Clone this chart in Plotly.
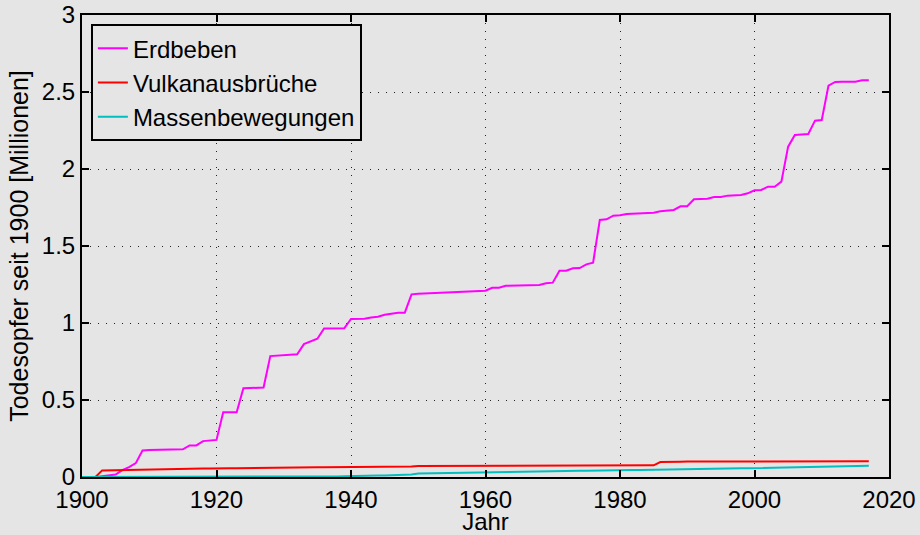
import plotly.graph_objects as go

years = list(range(1900, 2018))

erdbeben = [
    0.0, 0.0, 0.0, 0.005, 0.01, 0.016, 0.045, 0.064, 0.09, 0.172,
    0.175, 0.176, 0.177, 0.178, 0.179, 0.18, 0.205, 0.205, 0.233, 0.239,
    0.241, 0.42, 0.42, 0.421, 0.576, 0.578, 0.58, 0.581, 0.785, 0.787,
    0.79, 0.793, 0.797, 0.863, 0.88, 0.898, 0.965, 0.965, 0.965, 0.966,
    1.026, 1.026, 1.028, 1.035, 1.041, 1.054, 1.062, 1.067, 1.067, 1.186,
    1.19, 1.192, 1.194, 1.196, 1.198, 1.2, 1.201, 1.203, 1.205, 1.21,
    1.21, 1.229, 1.229, 1.242, 1.243, 1.244, 1.245, 1.246, 1.247, 1.258,
    1.262, 1.339, 1.339, 1.355, 1.357, 1.381, 1.392, 1.669, 1.673, 1.697,
    1.699, 1.708, 1.71, 1.712, 1.714, 1.716, 1.725, 1.73, 1.734, 1.758,
    1.758, 1.803, 1.805, 1.807, 1.818, 1.818, 1.827, 1.829, 1.831, 1.842,
    1.862, 1.864, 1.885, 1.885, 1.918, 2.145, 2.221, 2.224, 2.227, 2.314,
    2.318, 2.541, 2.565, 2.566, 2.566, 2.567, 2.576, 2.576,
]

vulkane = [
    0.0, 0.0, 0.0, 0.043, 0.044, 0.044, 0.045, 0.045, 0.046, 0.05,
    0.05, 0.051, 0.051, 0.052, 0.052, 0.053, 0.053, 0.054, 0.055, 0.055,
    0.057, 0.057, 0.057, 0.057, 0.058, 0.058, 0.058, 0.058, 0.059, 0.062,
    0.062, 0.063, 0.063, 0.063, 0.063, 0.064, 0.064, 0.064, 0.064, 0.064,
    0.064, 0.064, 0.064, 0.064, 0.064, 0.064, 0.064, 0.064, 0.065, 0.068,
    0.072, 0.072, 0.072, 0.072, 0.072, 0.072, 0.073, 0.073, 0.073, 0.073,
    0.074, 0.074, 0.074, 0.075, 0.075, 0.076, 0.076, 0.076, 0.076, 0.076,
    0.076, 0.076, 0.076, 0.076, 0.076, 0.076, 0.076, 0.076, 0.076, 0.076,
    0.076, 0.076, 0.076, 0.076, 0.076, 0.076, 0.097, 0.099, 0.099, 0.099,
    0.1, 0.1, 0.1, 0.1, 0.1, 0.1, 0.1, 0.101, 0.101, 0.101,
    0.101, 0.101, 0.101, 0.101, 0.102, 0.102, 0.102, 0.102, 0.102, 0.102,
    0.102, 0.102, 0.103, 0.103, 0.103, 0.103, 0.103, 0.103,
]

massen = [
    0.0, 0.0, 0.0, 0.0, 0.0, 0.0, 0.0, 0.0, 0.0, 0.0,
    0.0, 0.0, 0.0, 0.0, 0.0, 0.0, 0.0, 0.0, 0.0, 0.0,
    0.0, 0.0, 0.0, 0.0, 0.0, 0.0, 0.0, 0.0, 0.0, 0.0,
    0.0, 0.0, 0.0, 0.0, 0.0, 0.001, 0.002, 0.003, 0.004, 0.005,
    0.005, 0.006, 0.007, 0.008, 0.009, 0.01, 0.011, 0.012, 0.013, 0.017,
    0.022, 0.023, 0.023, 0.024, 0.024, 0.025, 0.025, 0.026, 0.026, 0.027,
    0.027, 0.028, 0.029, 0.031, 0.033, 0.034, 0.035, 0.036, 0.037, 0.038,
    0.039, 0.039, 0.04, 0.04, 0.041, 0.041, 0.041, 0.042, 0.042, 0.043,
    0.043, 0.044, 0.045, 0.046, 0.047, 0.048, 0.049, 0.05, 0.051, 0.052,
    0.053, 0.053, 0.054, 0.054, 0.055, 0.055, 0.056, 0.056, 0.057, 0.057,
    0.058, 0.058, 0.059, 0.059, 0.06, 0.061, 0.062, 0.063, 0.064, 0.065,
    0.066, 0.067, 0.068, 0.069, 0.07, 0.071, 0.072, 0.073,
]

series = [
    ("Erdbeben", erdbeben, "#ff00ff"),
    ("Vulkanausbrüche", vulkane, "#ff0000"),
    ("Massenbewegungen", massen, "#00bfbf"),
]

bg = "#e5e5e5"
font = "Liberation Sans, Arial, sans-serif"

fig = go.Figure()
for name, vals, col in series:
    fig.add_trace(go.Scatter(x=years, y=vals, name=name, mode="lines",
                             line=dict(color=col, width=2)))

axis_style = dict(showline=True, linecolor="black", linewidth=2, mirror="ticks",
                  ticks="inside", ticklen=7, tickwidth=2, tickcolor="black",
                  showgrid=True, gridcolor="#222", gridwidth=1, griddash="1px,7px",
                  zeroline=False, automargin=False, ticklabeloverflow="allow",
                  tickfont=dict(size=24, color="black"))

fig.update_xaxes(range=[1900, 2020], dtick=20, tick0=1900,
                 title=dict(text="Jahr", font=dict(size=24, color="black"), standoff=7),
                 **axis_style)
fig.update_yaxes(range=[0, 3], dtick=0.5, tick0=0,
                 title=dict(text="Todesopfer seit 1900 [Millionen]",
                            font=dict(size=25, color="black"), standoff=6),
                 **axis_style)

fig.update_layout(
    width=920, height=535,
    margin=dict(l=82, r=31, t=15, b=58),
    paper_bgcolor=bg, plot_bgcolor=bg,
    font=dict(family=font, size=24, color="black"),
    showlegend=True,
    legend=dict(x=0.011, y=0.98, xanchor="left", yanchor="top",
                bgcolor=bg, bordercolor="black", borderwidth=2,
                font=dict(size=24, color="black"), tracegroupgap=0),
)

# drop the browser's default 8px body margin so the figure fills the window
fig.write_html("out.html", config={"displayModeBar": False},
               post_script="document.body.style.margin='0';")
